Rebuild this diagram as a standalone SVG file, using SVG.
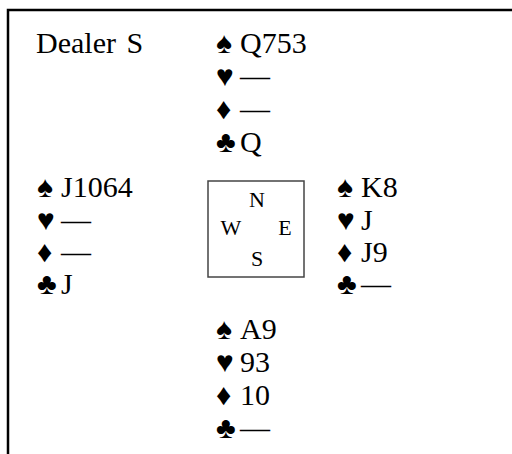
<svg xmlns="http://www.w3.org/2000/svg" width="512" height="454" viewBox="0 0 512 454">
<style>
.frame{fill:none;stroke:#000;stroke-width:2.5}
.box{fill:none;stroke:#444;stroke-width:1.5}
</style>
<rect width="512" height="454" fill="#fff"/>
<g id="frame"><path class="frame" d="M8,454 V10 H512"/></g>
<g id="dealer"><text font-family="Liberation Serif" font-size="30" x="36" y="53" word-spacing="3">Dealer S</text></g>
<g id="north">
<text font-family="Liberation Serif" font-size="30" x="216" y="53">♠</text><text font-family="Liberation Serif" font-size="30" x="240" y="53">Q753</text>
<text font-family="Liberation Serif" font-size="30" x="216" y="86">♥</text><text font-family="Liberation Serif" font-size="30" x="240" y="86">—</text>
<text font-family="Liberation Serif" font-size="30" x="216" y="119">♦</text><text font-family="Liberation Serif" font-size="30" x="240" y="119">—</text>
<text font-family="Liberation Serif" font-size="30" x="216" y="152">♣</text><text font-family="Liberation Serif" font-size="30" x="240" y="152">Q</text>
</g>
<g id="west">
<text font-family="Liberation Serif" font-size="30" x="37" y="197">♠</text><text font-family="Liberation Serif" font-size="30" x="61" y="197">J1064</text>
<text font-family="Liberation Serif" font-size="30" x="37" y="229.5">♥</text><text font-family="Liberation Serif" font-size="30" x="61" y="229.5">—</text>
<text font-family="Liberation Serif" font-size="30" x="37" y="262">♦</text><text font-family="Liberation Serif" font-size="30" x="61" y="262">—</text>
<text font-family="Liberation Serif" font-size="30" x="37" y="294">♣</text><text font-family="Liberation Serif" font-size="30" x="61" y="294">J</text>
</g>
<g id="east">
<text font-family="Liberation Serif" font-size="30" x="337" y="197">♠</text><text font-family="Liberation Serif" font-size="30" x="361" y="197">K8</text>
<text font-family="Liberation Serif" font-size="30" x="337" y="229.5">♥</text><text font-family="Liberation Serif" font-size="30" x="361" y="229.5">J</text>
<text font-family="Liberation Serif" font-size="30" x="337" y="262">♦</text><text font-family="Liberation Serif" font-size="30" x="361" y="262">J9</text>
<text font-family="Liberation Serif" font-size="30" x="337" y="294">♣</text><text font-family="Liberation Serif" font-size="30" x="361" y="294">—</text>
</g>
<g id="compass">
<rect class="box" x="208" y="181" width="96" height="96"/>
<text font-family="Liberation Serif" font-size="22" text-anchor="middle" x="257" y="207">N</text>
<text font-family="Liberation Serif" font-size="22" text-anchor="middle" x="231" y="235">W</text>
<text font-family="Liberation Serif" font-size="22" text-anchor="middle" x="285" y="235">E</text>
<text font-family="Liberation Serif" font-size="22" text-anchor="middle" x="257" y="266">S</text>
</g>
<g id="south">
<text font-family="Liberation Serif" font-size="30" x="216" y="339">♠</text><text font-family="Liberation Serif" font-size="30" x="240" y="339">A9</text>
<text font-family="Liberation Serif" font-size="30" x="216" y="372">♥</text><text font-family="Liberation Serif" font-size="30" x="240" y="372">93</text>
<text font-family="Liberation Serif" font-size="30" x="216" y="405">♦</text><text font-family="Liberation Serif" font-size="30" x="240" y="405">10</text>
<text font-family="Liberation Serif" font-size="30" x="216" y="438">♣</text><text font-family="Liberation Serif" font-size="30" x="240" y="438">—</text>
</g>
<g id="connectors"></g>
</svg>
